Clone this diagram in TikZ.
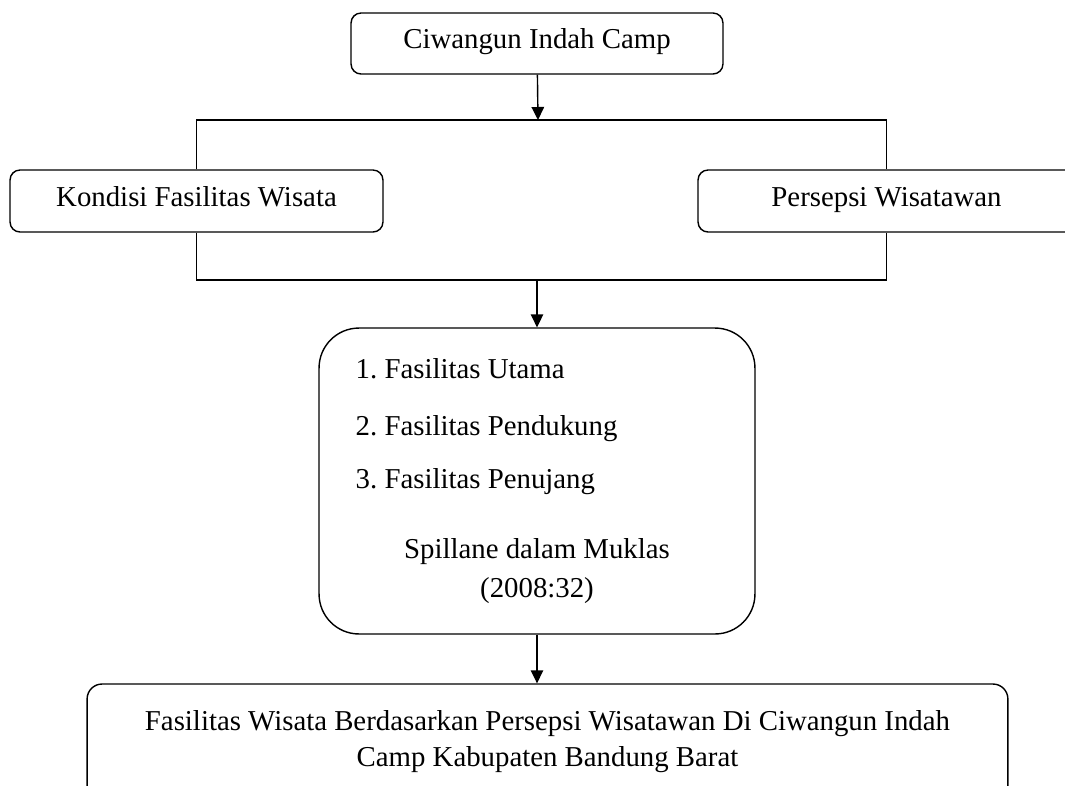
\documentclass[tikz,border=0pt]{standalone}
\usepackage{fontspec}
\setmainfont{Liberation Serif}
\frenchspacing
\usetikzlibrary{positioning,arrows.meta}

\begin{document}
\begin{tikzpicture}[x=0.02cm,y=-0.02cm,
    line width=0.8pt,
    txt/.style={font=\fontsize{16.4}{20.5}\selectfont,inner sep=0pt},
    box/.style={draw,rounded corners=0.2cm,txt,text height=0.78em,text depth=0.16em},
    arr/.style={-{Triangle[width=0.25cm,length=0.26cm]}}]
    \useasboundingbox (0,0) rectangle (1065,785);
    \clip (0,0) rectangle (1065,785);

    \node[box,minimum width=7.44cm,minimum height=1.22cm] (camp) at (537,43.5) {Ciwangun Indah Camp};
    \node[box,minimum width=7.46cm,minimum height=1.24cm] (kondisi) at (196.5,201) {Kondisi Fasilitas Wisata};
    \node[box,minimum width=7.54cm,minimum height=1.24cm] (persepsi) at (886.5,201) {Persepsi Wisatawan};

    % kotak indikator
    \node[draw,rounded corners=0.8cm,minimum width=8.72cm,minimum height=6.12cm] (fasilitas) at (537,481) {};
    \node[txt,anchor=base west] (utama) at (355,378) {1. Fasilitas Utama};
    \node[txt,anchor=base west] (pendukung) at (355,435) {2. Fasilitas Pendukung};
    \node[txt,anchor=base west] (penunjang) at (355,488) {3. Fasilitas Penujang};
    \node[txt,anchor=base] (sumber) at (537,558) {Spillane dalam Muklas};
    \node[txt,anchor=base] (tahun) at (537,597) {(2008:32)};

    \node[draw,rounded corners=0.3cm,align=center,minimum width=18.42cm,minimum height=2.32cm,
          font=\fontsize{16.4}{0.72cm}\selectfont] (hasil) at (547.5,742)
      {Fasilitas Wisata Berdasarkan Persepsi Wisatawan Di Ciwangun Indah\\Camp Kabupaten Bandung Barat};

    \coordinate (atas) at (538,120);
    \coordinate (bawah) at (537,280);

    \draw[arr] (camp) -- (atas);
    \draw (kondisi.north) |- (atas) -| (persepsi.north);
    \draw (kondisi.south) |- (bawah) -| (persepsi.south);
    \draw[arr] (bawah) -- (fasilitas.north);
    \draw[arr] (fasilitas.south) -- (fasilitas.south |- hasil.north);
\end{tikzpicture}
\end{document}
